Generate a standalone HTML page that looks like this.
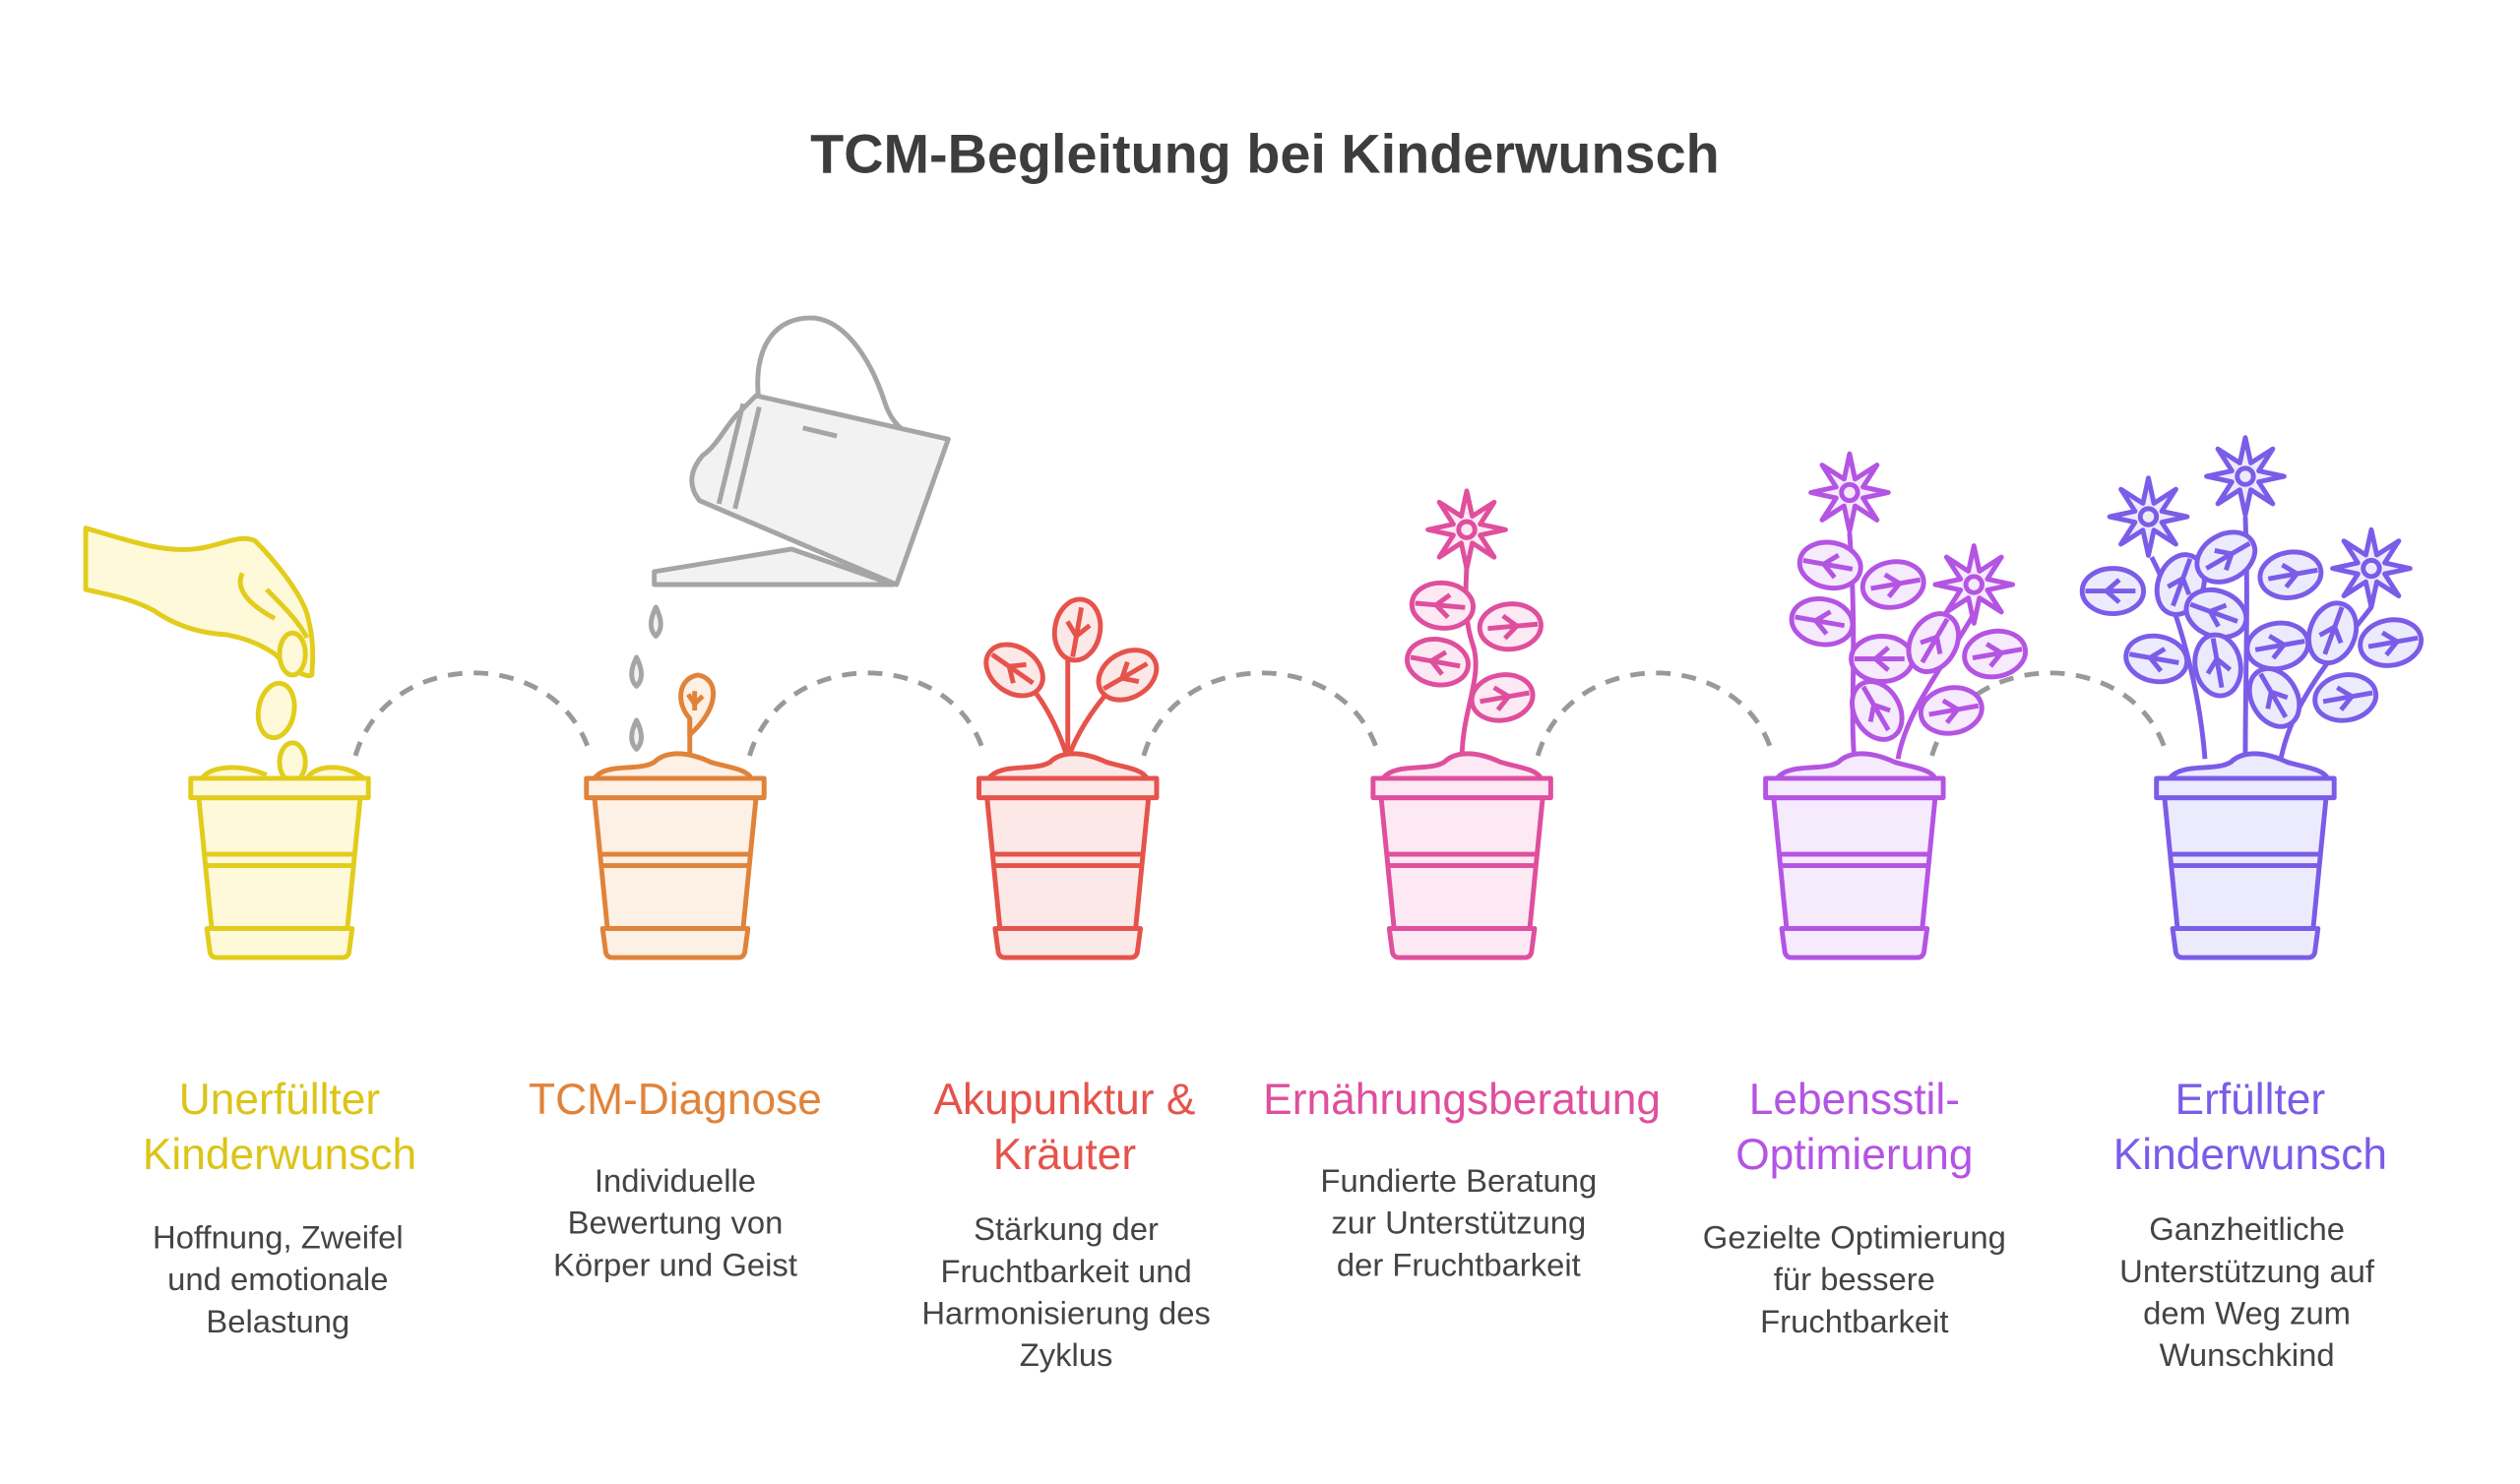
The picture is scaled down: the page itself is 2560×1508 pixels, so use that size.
<!DOCTYPE html>
<html><head><meta charset="utf-8"><style>
html,body{margin:0;padding:0;background:#fff}
svg{display:block}
text{font-family:"Liberation Sans",sans-serif}
</style></head><body>
<svg width="2560" height="1508" viewBox="0 0 1560 919" xmlns="http://www.w3.org/2000/svg">
<defs>
<symbol id="fl" overflow="visible"><path d="M0-24L3.4-8.3L17-17L8.3-3.4L24 0L8.3 3.4L17 17L3.4 8.3L0 24L-3.4 8.3L-17 17L-8.3 3.4L-24 0L-8.3-3.4L-17-17L-3.4-8.3Z" stroke-linejoin="round"/><circle r="5"/></symbol>
<symbol id="lf" overflow="visible"><ellipse cx="0" cy="0" rx="19" ry="14"/><path d="M-17 0H14M-4 0L4-7M-4 0L4 7" fill="none"/></symbol>
<symbol id="pot" overflow="visible">
<path d="M-50 494L-42 575H42L50 494Z"/>
<rect x="-55" y="482" width="110" height="12"/>
<path d="M-46 529H46M-45 536H45" fill="none"/>
<path d="M-45 575H45L43 590Q42 593 39 593H-39Q-42 593 -43 590Z"/>
</symbol>
</defs>
<text x="783" y="107" text-anchor="middle" font-size="34" font-weight="bold" fill="#3d3d3d">TCM-Begleitung bei Kinderwunsch</text>

<g fill="none" stroke="#999" stroke-width="3" stroke-dasharray="9 7">
<path d="M220 468C240 400 345 400 365 466"/>
<path d="M464 468C484 400 589 400 609 466"/>
<path d="M708 468C728 400 833 400 853 466"/>
<path d="M952 468C972 400 1077 400 1097 466"/>
<path d="M1196 468C1216 400 1321 400 1341 466"/>
</g>

<!-- pot 1 -->
<g stroke="#e2cc1c" stroke-width="3" fill="#fef9d9" stroke-linejoin="round">
<path d="M53 327C80 335 100 342 120 340C135 339 148 330 158 335C168 345 185 365 190 380C194 395 194 405 193 418C190 420 180 415 170 405C160 398 150 395 140 393C120 392 105 385 95 378C80 370 65 368 53 365Z"/>
<path d="M165 365C175 375 185 385 190 395M150 355C145 365 155 375 170 383"/>
<ellipse cx="181" cy="405" rx="8" ry="13"/>
<ellipse cx="171" cy="440" rx="11" ry="17" transform="rotate(10 171 440)"/>
<path d="M125 482C130 474 150 473 165 480M190 482C195 473 215 473 225 482"/>
<ellipse cx="181" cy="472" rx="8" ry="12"/>
<use href="#pot" x="173"/>
</g>

<!-- watering can -->
<g stroke="#a5a5a5" stroke-width="3" fill="#f2f2f2" stroke-linejoin="round">
<path d="M470 250C465 215 480 195 505 197C525 200 540 225 548 250C552 262 560 268 565 270" fill="none"/>
<path d="M405 354L490 340L553 362L405 362Z"/>
<path d="M468 245L587 272L555 362L433 310C425 300 428 290 435 282C445 275 450 262 458 255Z"/>
<path d="M460 250L445 312M470 252L455 315M497 265L518 270" fill="none"/>
<path d="M406 376Q400 388 406 394Q412 388 406 376Z"/>
<path d="M394 407Q388 419 394 425Q400 419 394 407Z"/>
<path d="M394 446Q388 458 394 464Q400 458 394 446Z"/>
</g>

<!-- pot 2 -->
<g stroke="#e0833a" stroke-width="3" fill="#fdf0e4" stroke-linejoin="round">
<path d="M427 470V445" fill="none"/>
<path d="M427 445C418 435 420 420 432 418C445 420 446 438 427 455Z"/>
<path d="M430 440V428M430 436L426 430M430 436L435 431" fill="none"/>
<path d="M368 482C375 472 395 478 405 472C412 465 425 465 440 472C450 475 462 476 465 482Z"/>
<use href="#pot" x="418"/>
</g>

<!-- pot 3 -->
<g stroke="#e5534b" stroke-width="3" fill="#fde8e8" stroke-linejoin="round">
<path d="M661 470V400M661 470C655 450 645 432 635 422M661 470C668 450 682 432 692 422" fill="none"/>
<use href="#lf" transform="translate(628 415) rotate(35)"/>
<use href="#lf" transform="translate(667 390) rotate(-80)"/>
<use href="#lf" transform="translate(698 418) rotate(-30)"/>
<path d="M612 482C620 472 640 478 650 472C657 465 670 465 685 472C695 475 707 476 710 482Z"/>
<use href="#pot" x="661"/>
</g>

<!-- pot 4 -->
<g stroke="#df4f9d" stroke-width="3" fill="#fce9f3" stroke-linejoin="round">
<path d="M905 470C905 440 918 420 912 400C905 380 908 360 908 348" fill="none"/>
<use href="#lf" transform="translate(893 375) rotate(5)"/>
<use href="#lf" transform="translate(890 410) rotate(10)"/>
<use href="#lf" transform="translate(935 388) rotate(175)"/>
<use href="#lf" transform="translate(930 432) rotate(170)"/>
<use href="#fl" transform="translate(908 328)"/>
<path d="M856 482C864 472 884 478 894 472C901 465 914 465 929 472C939 475 951 476 954 482Z"/>
<use href="#pot" x="905"/>
</g>

<!-- pot 5 -->
<g stroke="#b454e3" stroke-width="3" fill="#f6eafd" stroke-linejoin="round">
<path d="M1148 470C1145 440 1150 400 1145 330M1175 470C1180 440 1205 410 1222 380M1148 440C1160 420 1170 410 1168 395" fill="none"/>
<use href="#fl" transform="translate(1145 305)"/>
<use href="#fl" transform="translate(1222 362)"/>
<use href="#lf" transform="translate(1133 350) rotate(10)"/>
<use href="#lf" transform="translate(1128 385) rotate(10)"/>
<use href="#lf" transform="translate(1172 362) rotate(170)"/>
<use href="#lf" transform="translate(1165 408) rotate(0)"/>
<use href="#lf" transform="translate(1197 398) rotate(120)"/>
<use href="#lf" transform="translate(1235 405) rotate(170)"/>
<use href="#lf" transform="translate(1162 440) rotate(60)"/>
<use href="#lf" transform="translate(1208 440) rotate(170)"/>
<path d="M1100 482C1108 472 1128 478 1138 472C1145 465 1158 465 1173 472C1183 475 1195 476 1198 482Z"/>
<use href="#pot" x="1148"/>
</g>

<!-- pot 6 -->
<g stroke="#7b5ce8" stroke-width="3" fill="#ecebfd" stroke-linejoin="round">
<path d="M1365 470C1362 430 1350 380 1332 345M1390 470C1390 420 1392 370 1390 320M1412 470C1420 430 1450 400 1468 376" fill="none"/>
<use href="#fl" transform="translate(1330 320)"/>
<use href="#fl" transform="translate(1390 295)"/>
<use href="#fl" transform="translate(1468 352)"/>
<use href="#lf" transform="translate(1308 366) rotate(0)"/>
<use href="#lf" transform="translate(1335 408) rotate(10)"/>
<use href="#lf" transform="translate(1350 362) rotate(110)"/>
<use href="#lf" transform="translate(1372 380) rotate(20)"/>
<use href="#lf" transform="translate(1378 345) rotate(150)"/>
<use href="#lf" transform="translate(1418 356) rotate(170)"/>
<use href="#lf" transform="translate(1410 400) rotate(170)"/>
<use href="#lf" transform="translate(1373 412) rotate(80)"/>
<use href="#lf" transform="translate(1444 392) rotate(110)"/>
<use href="#lf" transform="translate(1480 398) rotate(170)"/>
<use href="#lf" transform="translate(1408 432) rotate(60)"/>
<use href="#lf" transform="translate(1452 432) rotate(170)"/>
<path d="M1343 482C1351 472 1371 478 1381 472C1388 465 1401 465 1416 472C1426 475 1438 476 1441 482Z"/>
<use href="#pot" x="1390"/>
</g>

<g font-size="27" text-anchor="middle">
<text x="173" y="690" fill="#dcc418">Unerfüllter</text>
<text x="173" y="724" fill="#dcc418">Kinderwunsch</text>
<text x="418" y="690" fill="#e0833a">TCM-Diagnose</text>
<text x="659" y="690" fill="#e5534b">Akupunktur &amp;</text>
<text x="659" y="724" fill="#e5534b">Kräuter</text>
<text x="905" y="690" fill="#df4f9d">Ernährungsberatung</text>
<text x="1148" y="690" fill="#b454e3">Lebensstil-</text>
<text x="1148" y="724" fill="#b454e3">Optimierung</text>
<text x="1393" y="690" fill="#7b5ce8">Erfüllter</text>
<text x="1393" y="724" fill="#7b5ce8">Kinderwunsch</text>
</g>
<g font-size="20" text-anchor="middle" fill="#444">
<text x="172" y="773">Hoffnung, Zweifel</text>
<text x="172" y="799">und emotionale</text>
<text x="172" y="825">Belastung</text>
<text x="418" y="738">Individuelle</text>
<text x="418" y="764">Bewertung von</text>
<text x="418" y="790">Körper und Geist</text>
<text x="660" y="768">Stärkung der</text>
<text x="660" y="794">Fruchtbarkeit und</text>
<text x="660" y="820">Harmonisierung des</text>
<text x="660" y="846">Zyklus</text>
<text x="903" y="738">Fundierte Beratung</text>
<text x="903" y="764">zur Unterstützung</text>
<text x="903" y="790">der Fruchtbarkeit</text>
<text x="1148" y="773">Gezielte Optimierung</text>
<text x="1148" y="799">für bessere</text>
<text x="1148" y="825">Fruchtbarkeit</text>
<text x="1391" y="768">Ganzheitliche</text>
<text x="1391" y="794">Unterstützung auf</text>
<text x="1391" y="820">dem Weg zum</text>
<text x="1391" y="846">Wunschkind</text>
</g>
</svg>
</body></html>
